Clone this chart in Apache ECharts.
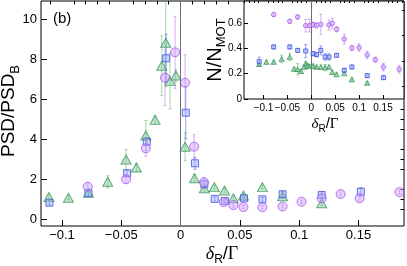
<!DOCTYPE html>
<html><head><meta charset="utf-8">
<script src="https://cdn.jsdelivr.net/npm/echarts@6/dist/echarts.min.js"></script>
<style>html,body{margin:0;padding:0;background:#fff}#c{width:407px;height:266px}</style>
</head><body><div id="c"></div>
<script>
// ---------- Main panel: PSD/PSD_B vs detuning ----------
const mainCircleX = [-0.0783,-0.046,-0.0293,-0.0131,-0.0046,0.0038,0.0114,0.0198,0.0365,0.0445,0.053,0.069,0.086,0.102,0.119,0.135,0.151,0.1845];
const mainCircleY = [1.64,2.01,3.56,7.09,8.36,6.84,3.64,1.86,0.87,0.72,0.62,0.61,0.65,0.89,1.06,1.27,1.06,1.37];
const mainCircleE = [0.2,0.2,0.4,1.4,1.8,1.4,0.6,0.25,0.1,0.1,0.08,0.08,0.08,0.08,0.1,0.1,0.1,0.1];

const mainSquareX = [-0.1106,-0.0777,-0.0451,-0.0285,-0.0122,0.0044,0.0122,0.020,0.0288,0.0373,0.0535,0.069,0.086,0.119,0.152];
const mainSquareY = [0.84,1.31,2.31,3.89,8.06,5.34,2.81,1.76,1.03,0.93,1.06,1.01,1.26,1.23,1.39];
const mainSquareE = [0.1,0.1,0.15,0.2,1.2,1.3,0.3,0.2,0.1,0.1,0.1,0.1,0.15,0.15,0.2];

const mainTriX = [-0.111,-0.0946,-0.0777,-0.0614,-0.046,-0.0373,-0.0293,-0.0215,-0.0159,-0.0125,-0.0089,-0.004,0.0038,0.0117,0.020,0.0285,0.037,0.0445,0.053,0.069,0.086,0.119];
const mainTriY = [1.12,1.09,1.34,1.89,3.0,2.6,4.2,4.98,7.69,8.84,6.93,7.2,3.64,2.06,1.56,1.62,1.45,1.06,1.2,1.62,1.16,0.81];
const mainTriE = [0.15,0.1,0.15,0.3,0.5,0.2,0.75,0.2,1.5,2.2,1.4,0.3,0.7,0.2,0.15,0.1,0.1,0.1,0.1,0.1,0.1,0.1];

const mainXTicks = [-0.1,-0.05,0,0.05,0.1,0.15];
const mainYTicks = [0,2,4,6,8,10];

// ---------- Inset: N/N_MOT vs detuning ----------
const insCircleX = [-0.0787,-0.045,-0.0285,-0.0117,-0.004,0.004,0.011,0.020,0.037,0.044,0.053,0.069,0.085,0.100,0.117,0.134,0.151,0.184];
const insCircleY = [0.665,0.612,0.646,0.578,0.578,0.586,0.580,0.588,0.583,0.596,0.549,0.472,0.402,0.405,0.347,0.310,0.252,0.234];
const insCircleE = [0.015,0.015,0.015,0.05,0.05,0.02,0.02,0.08,0.04,0.04,0.02,0.04,0.02,0.03,0.03,0.02,0.03,0.03];

const insSquareX = [-0.109,-0.0787,-0.045,-0.0285,-0.0117,0.004,0.011,0.020,0.029,0.037,0.053,0.069,0.085,0.117,0.151];
const insSquareY = [0.294,0.41,0.41,0.383,0.378,0.357,0.349,0.383,0.331,0.331,0.344,0.226,0.252,0.184,0.168];
const insSquareE = [0.035,0.015,0.015,0.015,0.05,0.015,0.015,0.035,0.025,0.025,0.015,0.015,0.015,0.015,0.015];

const insTriX = [-0.109,-0.094,-0.0787,-0.062,-0.045,-0.036,-0.0285,-0.0215,-0.015,-0.0117,-0.008,-0.004,0.004,0.011,0.020,0.029,0.037,0.044,0.053,0.069,0.085,0.117];
const insTriY = [0.273,0.291,0.291,0.315,0.331,0.236,0.234,0.218,0.252,0.279,0.263,0.257,0.26,0.252,0.252,0.247,0.252,0.21,0.192,0.2,0.153,0.126];
const insTriE = [0.015,0.015,0.015,0.03,0.03,0.015,0.045,0.015,0.015,0.015,0.015,0.015,0.015,0.015,0.015,0.025,0.015,0.015,0.015,0.015,0.015,0.01];

const insXTicks = [-0.1,-0.05,0,0.05,0.1,0.15];
const insYTicks = [0,0.2,0.4,0.6];

// ---------- styling ----------
const C = {
  purple:{fill:'rgba(205,160,248,0.6)', stroke:'#a658ee', err:'rgba(180,110,240,0.55)'},
  blue:{fill:'rgba(150,165,245,0.55)', stroke:'#3f52e2', err:'rgba(70,90,230,0.55)'},
  green:{fill:'rgba(130,200,155,0.6)', stroke:'#3d9a5e', err:'rgba(90,180,110,0.55)'}
};
const FONT = 'Liberation Sans';
function fmt(v){ if (Math.abs(v) < 1e-12) return '0'; const s = String(+Math.abs(v).toFixed(3)); return v < 0 ? '\u2212' + s : s; }
function range(a,b,step,skip){ const out=[]; for(let i=Math.round(a/step);i<=Math.round(b/step);i++){const v=+(i*step).toFixed(4); if(!skip.some(s=>Math.abs(s-v)<1e-9)) out.push(v);} return out; }
function zip3(x,y,e){ return x.map((v,i)=>[v,y[i],e[i]]); }
function zip2(x,y){ return x.map((v,i)=>[v,y[i]]); }

const mainXMin=-0.1177, mainXMax=0.1884, mainYMin=-0.325, mainYMax=10.925;
const insXMin=-0.1408, insXMax=0.194, insYMin=0, insYMax=0.772;

function axisPair(grid, min, max, major, minor, majLen, minLen, fs, margin){
  const base = {type:'value', gridIndex:grid, min, max, splitLine:{show:false}, axisLine:{show:false, onZero:false}};
  const a = Object.assign({}, base, {
    axisTick:{show:true, inside:true, length:majLen, customValues:major, lineStyle:{color:'#000',width:1}},
    axisLabel:{show:true, customValues:major, formatter:fmt, color:'#000', fontFamily:FONT, fontSize:fs, margin}
  });
  const b = Object.assign({}, base, {
    axisTick:{show:true, inside:true, length:minLen, customValues:minor, lineStyle:{color:'#000',width:1}},
    axisLabel:{show:false}
  });
  return [a,b];
}

const [mx0,mx1] = axisPair(0,mainXMin,mainXMax,mainXTicks,range(-0.11,0.18,0.01,mainXTicks),6,3.5,13,3);
const [my0,my1] = axisPair(0,mainYMin,mainYMax,mainYTicks,range(0,10.5,0.5,mainYTicks),6,3.5,13,4);
const [ix0,ix1] = axisPair(1,insXMin,insXMax,insXTicks,range(-0.14,0.19,0.01,insXTicks),4,2,10,4);
const [iy0,iy1] = axisPair(1,insYMin,insYMax,insYTicks,range(0,0.7,0.1,insYTicks),4,2,10,2);

function errSeries(data, xi, yi, color, cap, z){
  return {type:'custom', xAxisIndex:xi, yAxisIndex:yi, data, clip:true, z, silent:true,
    renderItem:function(params, api){
      const x=api.value(0), y=api.value(1), e=api.value(2);
      const t=api.coord([x,y+e]), b=api.coord([x,y-e]);
      const st={stroke:color, lineWidth:1};
      return {type:'group', children:[
        {type:'line', shape:{x1:t[0],y1:t[1],x2:b[0],y2:b[1]}, style:st},
        {type:'line', shape:{x1:t[0]-cap,y1:t[1],x2:t[0]+cap,y2:t[1]}, style:st},
        {type:'line', shape:{x1:b[0]-cap,y1:b[1],x2:b[0]+cap,y2:b[1]}, style:st}
      ]};
    }};
}
function sc(data, xi, yi, symbol, size, col, z){
  return {type:'scatter', xAxisIndex:xi, yAxisIndex:yi, data, symbol, symbolSize:size, z, silent:true,
    itemStyle:{color:col.fill, borderColor:col.stroke, borderWidth:1}};
}
function zeroLine(xi, yi, z){
  return {type:'line', xAxisIndex:xi, yAxisIndex:yi, data:[], silent:true, z,
    markLine:{silent:true, symbol:'none', label:{show:false}, lineStyle:{color:'#6e6e6e', width:1, type:'solid'},
      data:[{xAxis:0}], animation:false}};
}

const chart = echarts.init(document.getElementById('c'), null, {renderer:'canvas'});
chart.setOption({
  animation:false,
  backgroundColor:'#fff',
  grid:[
    {left:41, top:1, width:363, height:225, show:true, borderColor:'#000', borderWidth:1, backgroundColor:'transparent'},
    {left:244, top:1, width:160, height:98, show:true, borderColor:'#000', borderWidth:1, backgroundColor:'#fff', z:5}
  ],
  xAxis:[mx0, mx1, Object.assign(ix0,{z:6}), Object.assign(ix1,{z:6})],
  yAxis:[my0, my1, Object.assign(iy0,{z:6}), Object.assign(iy1,{z:6})],
  series:[
    zeroLine(0,0,1),
    errSeries(zip3(mainTriX,mainTriY,mainTriE),0,0,C.green.err,1.5,2),
    errSeries(zip3(mainSquareX,mainSquareY,mainSquareE),0,0,C.blue.err,1.5,2),
    errSeries(zip3(mainCircleX,mainCircleY,mainCircleE),0,0,C.purple.err,1.5,2),
    sc(zip2(mainTriX,mainTriY),0,0,'triangle',[10,9],C.green,3),
    sc(zip2(mainSquareX,mainSquareY),0,0,'rect',7,C.blue,3),
    sc(zip2(mainCircleX,mainCircleY),0,0,'circle',9,C.purple,3),
    zeroLine(2,2,6),
    errSeries(zip3(insTriX,insTriY,insTriE),2,2,C.green.err,1.5,7),
    errSeries(zip3(insSquareX,insSquareY,insSquareE),2,2,C.blue.err,1.5,7),
    errSeries(zip3(insCircleX,insCircleY,insCircleE),2,2,C.purple.err,1.5,7),
    sc(zip2(insTriX,insTriY),2,2,'triangle',[5,4.5],C.green,8),
    sc(zip2(insSquareX,insSquareY),2,2,'rect',4,C.blue,8),
    sc(zip2(insCircleX,insCircleY),2,2,'circle',4.5,C.purple,8)
  ],
  graphic:[
    {type:'text', x:53, y:19, z:10, style:{text:'(b)', font:'15px "Liberation Sans"', fill:'#000', verticalAlign:'middle'}},
    {type:'text', x:9, y:111, rotation:Math.PI/2, z:10, style:{
      text:'{a|PSD/PSD}{s|B}', align:'center', verticalAlign:'middle',
      rich:{a:{fontFamily:FONT, fontSize:19, lineHeight:26, verticalAlign:'middle', fill:'#000'},
            s:{fontFamily:FONT, fontSize:13, lineHeight:26, verticalAlign:'bottom', fill:'#000'}}}},
    {type:'text', x:222, y:254, z:10, style:{
      text:'{d|\u03b4}{s|R}{a|/}{g|\u0393}', align:'center', verticalAlign:'middle',
      rich:{d:{fontFamily:'Liberation Serif', fontStyle:'italic', fontSize:18, lineHeight:24, verticalAlign:'middle'},
            s:{fontFamily:FONT, fontSize:12, lineHeight:24, verticalAlign:'bottom'},
            a:{fontFamily:FONT, fontSize:18, lineHeight:24, verticalAlign:'middle'},
            g:{fontFamily:'Liberation Serif', fontSize:18, lineHeight:24, verticalAlign:'middle'}}}},
    {type:'text', x:215, y:50, rotation:Math.PI/2, z:10, style:{
      text:'{a|N/N}{s|MOT}', align:'center', verticalAlign:'middle',
      rich:{a:{fontFamily:FONT, fontSize:20, lineHeight:26, verticalAlign:'middle'},
            s:{fontFamily:FONT, fontSize:13, lineHeight:26, verticalAlign:'bottom'}}}},
    {type:'text', x:325, y:124, z:10, style:{
      text:'{d|\u03b4}{s|R}{a|/}{g|\u0393}', align:'center', verticalAlign:'middle',
      rich:{d:{fontFamily:'Liberation Serif', fontStyle:'italic', fontSize:15, lineHeight:20, verticalAlign:'middle'},
            s:{fontFamily:FONT, fontSize:10, lineHeight:20, verticalAlign:'bottom'},
            a:{fontFamily:FONT, fontSize:15, lineHeight:20, verticalAlign:'middle'},
            g:{fontFamily:'Liberation Serif', fontSize:15, lineHeight:20, verticalAlign:'middle'}}}}
  ]
});
</script></body></html>
